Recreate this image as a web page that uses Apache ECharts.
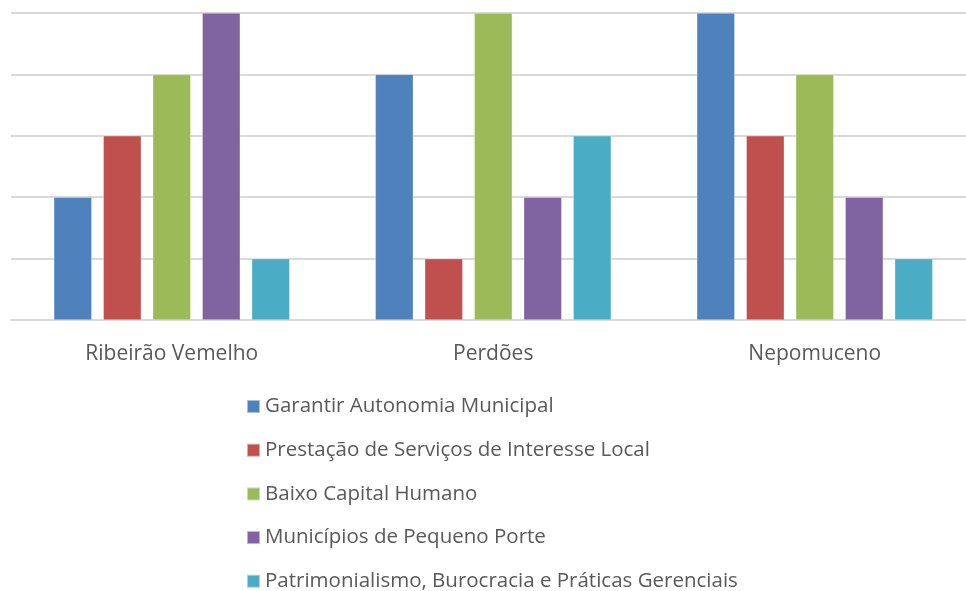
<!DOCTYPE html>
<html>
<head>
<meta charset="utf-8">
<script src="https://cdn.jsdelivr.net/npm/echarts@6/dist/echarts.min.js"></script>
<style>
  html, body { margin: 0; padding: 0; background: #fff; }
  #chart { width: 966px; height: 591px; }
</style>
</head>
<body>
<div id="chart"></div>
<script>
const categories = ["Ribeirão Vemelho", "Perdões", "Nepomuceno"];
const seriesNames = [
  "Garantir Autonomia Municipal",
  "Prestação de Serviços de Interesse Local",
  "Baixo Capital Humano",
  "Municípios de Pequeno Porte",
  "Patrimonialismo, Burocracia e Práticas Gerenciais",
];
const colors = ["#4F81BD", "#C0504D", "#9BBB59", "#8064A2", "#4BACC6"];
const autonomia = [2, 4, 5];
const servicos = [3, 1, 3];
const capital = [4, 5, 4];
const pequenoPorte = [5, 2, 2];
const patrimonialismo = [1, 3, 1];
const values = [autonomia, servicos, capital, pequenoPorte, patrimonialismo];

const chart = echarts.init(document.getElementById("chart"));

chart.setOption({
  backgroundColor: "#fff",
  animation: false,
  textStyle: { fontFamily: "Open Sans", color: "#595959" },
  grid: { top: 13, left: 11, width: 964.5, height: 307, outerBoundsMode: "none" },
  legend: {
    orient: "vertical",
    left: 241,
    top: 391,
    height: 200,
    itemWidth: 13,
    itemHeight: 13,
    itemGap: 22.7,
    icon: "rect",
    textStyle: { fontSize: 20.5, color: "#595959", fontFamily: "Open Sans" },
    data: seriesNames,
  },
  xAxis: {
    type: "category",
    data: categories,
    axisLine: { lineStyle: { color: "#D9D9D9", width: 2 } },
    axisTick: { show: false },
    axisLabel: { fontSize: 21, color: "#595959", margin: 24 },
  },
  yAxis: {
    type: "value",
    min: 0,
    max: 5,
    interval: 1,
    axisLabel: { show: false },
    axisLine: { show: false },
    axisTick: { show: false },
    splitLine: { lineStyle: { color: "#D9D9D9", width: 2 } },
  },
  series: seriesNames.map((name, i) => ({
    name,
    type: "bar",
    data: values[i],
    barGap: "30%",
    barCategoryGap: "26.6%",
    itemStyle: { color: colors[i], borderColor: "rgba(255,255,255,0.5)", borderWidth: 0.6 },
  })),
});
</script>
</body>
</html>
